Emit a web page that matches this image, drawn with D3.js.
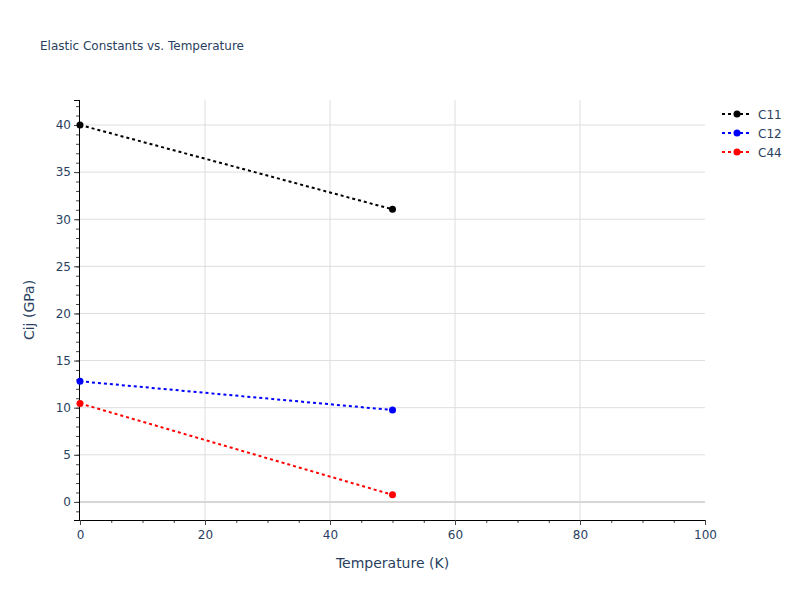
<!DOCTYPE html>
<html><head><meta charset="utf-8">
<script src="https://cdn.jsdelivr.net/npm/d3@7"></script>
<style>body{margin:0;background:#fff}</style>
</head><body>
<svg id="c" width="800" height="600"></svg>
<script>
const temperatures = [0, 50];
const C11 = [40.0, 31.05];
const C12 = [12.8, 9.75];
const C44 = [10.45, 0.75];
const seriesNames = ["C11", "C12", "C44"];
const seriesColors = ["#000000", "#0000ff", "#ff0000"];
const xTicks = [0, 20, 40, 60, 80, 100];
const yTicks = [0, 5, 10, 15, 20, 25, 30, 35, 40];

const series = [C11, C12, C44].map((v, i) => ({
  name: seriesNames[i], color: seriesColors[i],
  pts: temperatures.map((t, j) => [t, v[j]])
}));

const svg = d3.select("#c");
const txt = "#2a3f5f";
const font = "'DejaVu Sans', Verdana, sans-serif";
const L = 80, R = 705, T = 100, B = 520;
const x = d3.scaleLinear().domain([0, 100]).range([L, R]);
const y = d3.scaleLinear().domain([-1.92, 42.65]).range([B, T]);

// grid
const g = svg.append("g");
g.selectAll(".vg").data(xTicks.filter(d => d > 0 && d < 100)).join("line")
  .attr("x1", d => x(d)).attr("x2", d => x(d)).attr("y1", T).attr("y2", B)
  .attr("stroke", "#dedede").attr("stroke-width", 1);
g.selectAll(".hg").data(yTicks.filter(d => d !== 0)).join("line")
  .attr("x1", L).attr("x2", R).attr("y1", d => y(d)).attr("y2", d => y(d))
  .attr("stroke", "#dedede").attr("stroke-width", 1);
g.append("line").attr("x1", L).attr("x2", R).attr("y1", y(0)).attr("y2", y(0))
  .attr("stroke", "#d6d6d6").attr("stroke-width", 2);

// axes
const xAxis = d3.axisBottom(x).tickValues(xTicks).tickSize(5).tickPadding(5);
const xMinor = d3.axisBottom(x).tickValues(d3.range(0, 101, 5)).tickSize(3).tickFormat("");
const yAxis = d3.axisLeft(y).tickValues(yTicks).tickSize(5).tickPadding(3);
const yMinor = d3.axisLeft(y).tickValues(d3.range(-1, 43, 1)).tickSize(3).tickFormat("");

function styleAxis(sel) {
  sel.select(".domain").attr("stroke", "#000").attr("stroke-width", 1);
  sel.selectAll(".tick line").attr("stroke", "#444");
  sel.selectAll("text").attr("fill", txt).style("font-family", font).style("font-size", "12px");
}
svg.append("g").attr("transform", `translate(0,${B})`).call(xMinor).call(styleAxis);
svg.append("g").attr("transform", `translate(0,${B})`).call(xAxis).call(styleAxis);
svg.append("g").attr("transform", `translate(${L - 1},0)`).call(yMinor).call(styleAxis);
svg.append("g").attr("transform", `translate(${L - 1},0)`).call(yAxis).call(styleAxis);

// lines
const line = d3.line().x(d => x(d[0])).y(d => y(d[1]));
series.forEach(s => {
  svg.append("path").attr("d", line(s.pts)).attr("fill", "none")
    .attr("stroke", s.color).attr("stroke-width", 2).attr("stroke-dasharray", "3,3");
  svg.selectAll(null).data(s.pts).join("circle")
    .attr("cx", d => x(d[0])).attr("cy", d => y(d[1])).attr("r", 3.5).attr("fill", s.color);
});

// legend
series.forEach((s, i) => {
  const ly = 114 + i * 19;
  svg.append("line").attr("x1", 722).attr("x2", 751).attr("y1", ly).attr("y2", ly)
    .attr("stroke", s.color).attr("stroke-width", 2).attr("stroke-dasharray", "3,3");
  svg.append("circle").attr("cx", 737).attr("cy", ly).attr("r", 3.5).attr("fill", s.color);
  svg.append("text").attr("x", 758).attr("y", ly + 4.5).text(s.name)
    .attr("fill", txt).style("font-family", font).style("font-size", "12px");
});

// titles
svg.append("text").attr("x", 40).attr("y", 50).text("Elastic Constants vs. Temperature")
  .attr("fill", txt).style("font-family", font).style("font-size", "12px");
svg.append("text").attr("x", (L + R) / 2).attr("y", 568).attr("text-anchor", "middle")
  .text("Temperature (K)").attr("fill", txt).style("font-family", font).style("font-size", "14px");
svg.append("text").attr("transform", `translate(34,${(T + B) / 2}) rotate(-90)`)
  .attr("text-anchor", "middle").text("Cij (GPa)")
  .attr("fill", txt).style("font-family", font).style("font-size", "14px");
</script>
</body></html>
